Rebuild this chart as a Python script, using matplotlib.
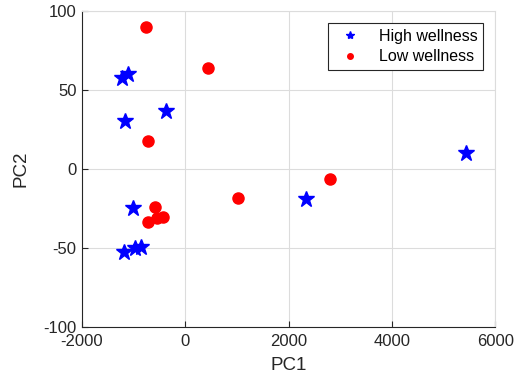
import matplotlib
matplotlib.use("Agg")
import matplotlib.pyplot as plt

plt.rcParams["font.family"] = ["Liberation Sans", "DejaVu Sans"]
plt.rcParams["axes.unicode_minus"] = False

# PCA scores
high_pc1 = [-1220, -1105, -1160, -370, -1010, -1180, -970, -850, 2345, 5445]
high_pc2 = [57.6, 60, 30.4, 36.7, -24.7, -52.5, -50, -49.4, -19, 10]
low_pc1 = [-755, 445, -715, -580, -425, -540, -715, 1030, 2800]
low_pc2 = [90, 64, 17.7, -24, -30, -31, -33.5, -18, -6]

x_ticks = [-2000, 0, 2000, 4000, 6000]
y_ticks = [-100, -50, 0, 50, 100]

fig = plt.figure(figsize=(5.19, 3.84), dpi=100)
ax = fig.add_axes([0.158, 0.148, 0.796, 0.823])

ax.plot(high_pc1, high_pc2, linestyle="none", marker="*", color="blue",
        markersize=12, label="High wellness", zorder=3)
ax.plot(low_pc1, low_pc2, linestyle="none", marker="o", color="red",
        markersize=8, label="Low wellness", zorder=3)

ax.set_xlim(-2000, 6000)
ax.set_ylim(-100, 100)
ax.set_xticks(x_ticks)
ax.set_yticks(y_ticks)
ax.grid(True, color="#dcdcdc", linewidth=0.8)
ax.set_axisbelow(True)
ax.tick_params(direction="in", labelsize=12, colors="#262626", length=4,
               top=False, right=False)
ax.tick_params(axis="x", pad=5)
ax.tick_params(axis="y", pad=4)
for s in ax.spines.values():
    s.set_color("#262626")
    s.set_linewidth(0.8)
ax.spines["top"].set_color("#dcdcdc")
ax.spines["right"].set_color("#dcdcdc")

ax.set_xlabel("PC1", fontsize=13.5, color="#262626", labelpad=6)
ax.set_ylabel("PC2", fontsize=13.5, color="#262626", labelpad=10)

leg = ax.legend(loc="upper right", fontsize=11.5, markerscale=0.5,
                fancybox=False, edgecolor="#262626", framealpha=1,
                bbox_to_anchor=(0.971, 0.962), borderaxespad=0,
                handletextpad=0.8, handlelength=2.0, borderpad=0.35,
                labelspacing=0.35)
leg.get_frame().set_linewidth(0.8)

fig.savefig("out.png", dpi=100)
